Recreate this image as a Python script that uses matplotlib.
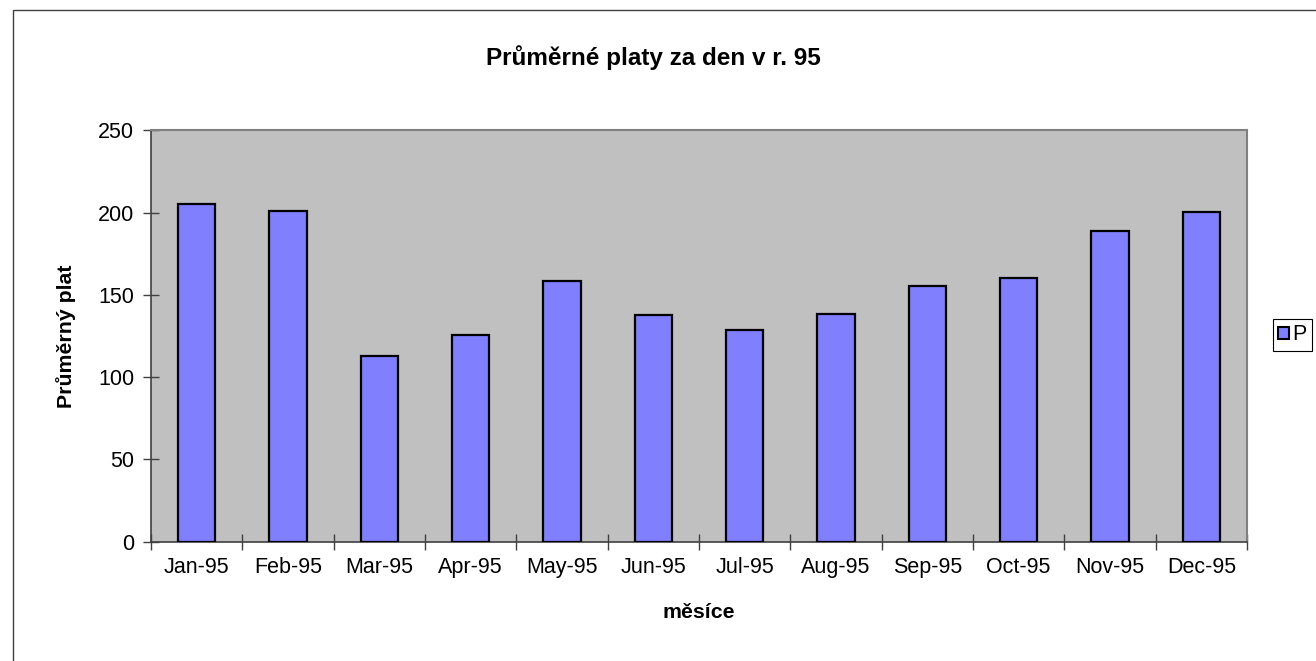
import matplotlib
matplotlib.use("Agg")
import matplotlib.pyplot as plt
from matplotlib.patches import Patch, Rectangle
import numpy as np

months = ["Jan-95", "Feb-95", "Mar-95", "Apr-95", "May-95", "Jun-95",
          "Jul-95", "Aug-95", "Sep-95", "Oct-95", "Nov-95", "Dec-95"]
values = [205.2, 200.8, 113.0, 125.6, 158.2, 137.8, 128.6, 138.3, 155.5, 160.1, 188.8, 200.2]
yticks = [0, 50, 100, 150, 200, 250]
title = "Průměrné platy za den v r. 95"
xlabel = "měsíce"
ylabel = "Průměrný plat"
legend_label = "P"

plt.rcParams['font.family'] = ['Liberation Sans', 'DejaVu Sans']

W, H = 1316, 661
fig = plt.figure(figsize=(W / 100, H / 100), dpi=100)
fig.patch.set_facecolor("white")

# outer chart border (left and top visible)
fig.patches.append(Rectangle((13 / W, -0.1), 1.2, 1 - 10 / H + 0.1,
                             transform=fig.transFigure, fill=False,
                             edgecolor="#404040", lw=1.0))

ax = fig.add_axes([151 / W, 1 - 541.7 / H, (1247 - 151) / W, (541.7 - 130.3) / H])
ax.set_facecolor("#C0C0C0")
x = np.arange(len(months))
ax.bar(x, values, width=0.41, color="#8080FF", edgecolor="black", linewidth=1.6, zorder=3)

ax.set_xlim(-0.5, len(months) - 0.5)
ax.set_ylim(0, 250)
ax.set_yticks(yticks)
ax.set_xticks(x)
ax.set_xticklabels(months)
ax.set_xticks(np.arange(-0.5, len(months), 1.0), minor=True)
ax.tick_params(axis="x", which="major", length=0, pad=11, labelsize=15.5)
ax.tick_params(axis="x", which="minor", direction="inout", length=12, width=1, color="#404040")
ax.tick_params(axis="y", direction="inout", length=12, width=1, color="#404040",
               pad=6, labelsize=15.5)

for s in ["top", "right"]:
    ax.spines[s].set_color("#808080")
    ax.spines[s].set_linewidth(1.5)
for s in ["left", "bottom"]:
    ax.spines[s].set_color("#404040")
    ax.spines[s].set_linewidth(1.2)

fig.text(653 / W, 1 - 58 / H, title, ha="center", va="center",
         fontsize=17.5, fontweight="bold")
fig.text(699 / W, 1 - 613 / H, xlabel, ha="center", va="center",
         fontsize=15.3, fontweight="bold")
fig.text(66 / W, 1 - 336 / H, ylabel, ha="center", va="center", rotation=90,
         fontsize=15.3, fontweight="bold")

handle = Patch(facecolor="#8080FF", edgecolor="black", linewidth=1.5)
leg = fig.legend([handle], [legend_label], loc="upper left",
                 bbox_to_anchor=(1273 / W, 1 - 319 / H),
                 fontsize=15.5, frameon=True, fancybox=False,
                 handlelength=0.5, handleheight=0.5, handletextpad=0.15,
                 borderpad=0.25, borderaxespad=0, framealpha=1)
leg.get_frame().set_edgecolor("black")
leg.get_frame().set_linewidth(0.8)

fig.savefig("out.png", dpi=100, facecolor="white")
